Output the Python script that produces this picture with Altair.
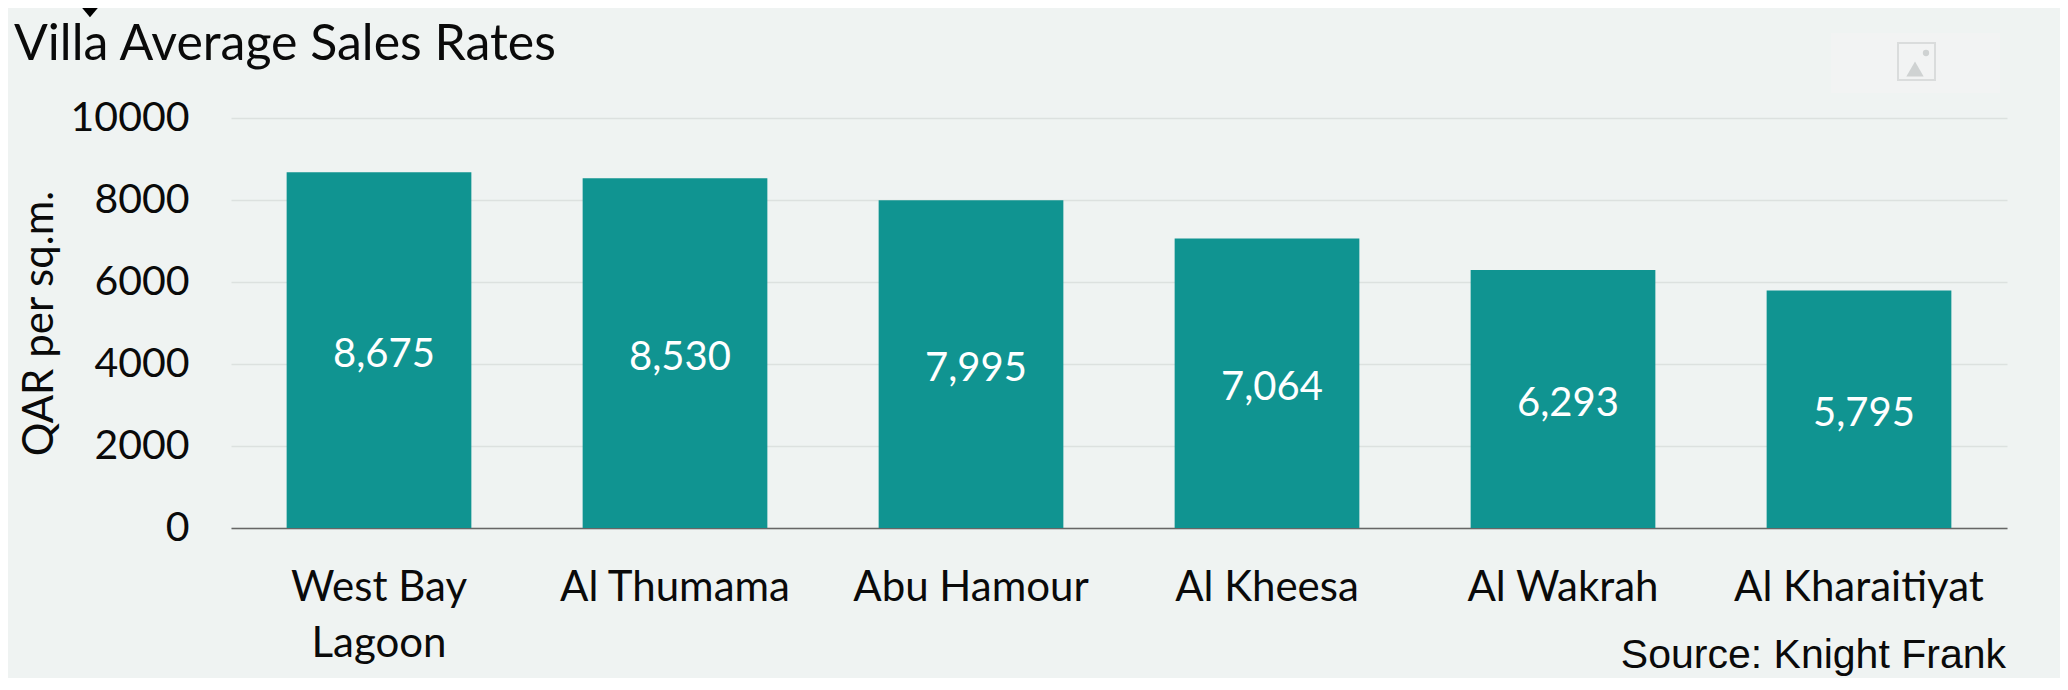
import altair as alt
import pandas as pd

categories = ["West Bay Lagoon", "Al Thumama", "Abu Hamour", "Al Kheesa", "Al Wakrah", "Al Kharaitiyat"]
values = [8675, 8530, 7995, 7064, 6293, 5795]
y_ticks = [0, 2000, 4000, 6000, 8000, 10000]

BG = "#EFF3F2"
TEAL = "#109491"
FONT = "Lato"
W, H = 1776, 410

df = pd.DataFrame({"area": categories, "value": values})

x = alt.X("area:N", sort=categories, title=None,
          scale=alt.Scale(paddingInner=0.376, paddingOuter=0.188),
          axis=alt.Axis(labelAngle=0, labelFontSize=42, labelFont=FONT, labelColor="#0a0a0a",
                        labelPadding=72, ticks=False, domainColor="#666666", domainWidth=1.5,
                        labelLimit=300, labelBaseline="alphabetic", labelLineHeight=56,
                        labelExpr="datum.label == 'West Bay Lagoon' ? ['West Bay', 'Lagoon'] : datum.label"))

bars = alt.Chart(df).mark_bar(color=TEAL).encode(
    x=x,
    y=alt.Y("value:Q", scale=alt.Scale(domain=[0, 10000]),
            axis=alt.Axis(values=y_ticks, format="d", labelFontSize=41, labelFont=FONT, labelColor="#0a0a0a",
                          labelPadding=42, ticks=False, domain=False,
                          gridColor="#DCE1DF", gridWidth=1.5,
                          title="QAR per sq.m.", titleFontSize=42, titleFont=FONT, titleFontWeight="normal",
                          titleColor="#0a0a0a", titleX=-170, titleY=205)),
)

labels = alt.Chart(df).transform_calculate(mid="datum.value / 2").mark_text(
    color="white", fontSize=40, font=FONT, baseline="middle", dx=5, dy=5
).encode(
    x=alt.X("area:N", sort=categories),
    y=alt.Y("mid:Q"),
    text=alt.Text("value:Q", format=","),
)

source = alt.Chart(pd.DataFrame({"t": ["Source: Knight Frank"]})).mark_text(
    font="Liberation Sans", fontSize=41, align="right", baseline="alphabetic", color="#0a0a0a"
).encode(x=alt.value(W - 1), y=alt.value(H + 140), text="t:N")

arrow = alt.Chart(pd.DataFrame({"a": [0]})).mark_point(
    shape="M-1,-1L1,-1L1,-0.2L0,1L-1,-0.2Z", filled=True, color="black", opacity=1, size=1500, clip=False
).encode(x=alt.value(-141), y=alt.value(-120))

placeholder = alt.Chart(pd.DataFrame({"a": [0]})).mark_rect(color="#F2F3F3").encode(
    x=alt.value(1600), x2=alt.value(1769), y=alt.value(-85), y2=alt.value(-25))

icon_box = alt.Chart(pd.DataFrame({"a": [0]})).mark_rect(color="#F2F3F3", stroke="#DADCDC", strokeWidth=2).encode(
    x=alt.value(1667), x2=alt.value(1704), y=alt.value(-75), y2=alt.value(-38))

icon_hill = alt.Chart(pd.DataFrame({"a": [0]})).mark_point(
    shape="triangle-up", filled=True, color="#CFD2D2", opacity=1, size=300
).encode(x=alt.value(1684), y=alt.value(-49))

icon_sun = alt.Chart(pd.DataFrame({"a": [0]})).mark_point(
    shape="circle", filled=True, color="#CFD2D2", opacity=1, size=40
).encode(x=alt.value(1695), y=alt.value(-65))

chart = (
    alt.layer(placeholder, icon_box, icon_hill, icon_sun, bars, labels, source, arrow)
    .properties(
        width=W, height=H, background=BG,
        padding={"left": 223, "top": 110, "right": 53, "bottom": 150},
        autosize=alt.AutoSizeParams(type="none"),
        title=alt.TitleParams("Villa Average Sales Rates", anchor="start", frame="group", font=FONT,
                              fontSize=50, fontWeight="normal", color="#0a0a0a", baseline="alphabetic",
                              dx=-217, offset=0, dy=131),
    )
    .configure_view(stroke=None)
)

chart.save("out.html", embed_options={"renderer": "svg", "actions": False})
